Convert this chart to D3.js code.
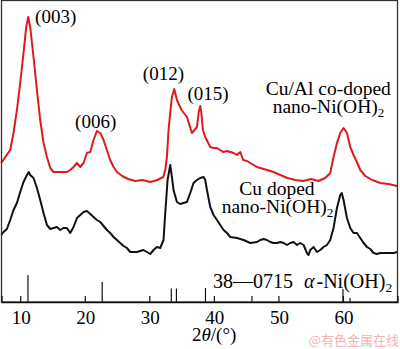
<!DOCTYPE html>
<html><head><meta charset="utf-8">
<script src="https://cdn.jsdelivr.net/npm/d3@7"></script>
<style>
body{margin:0;background:#fff}
svg{display:block}
svg text{font-family:"Liberation Serif","Times New Roman",serif;fill:#000}
</style>
</head><body>
<svg id="chart" width="400" height="349"></svg>
<script>
// ---- data (2θ in degrees, intensity in arbitrary units) ----
const twoThetaRed = [7.06,8.45,8.96,9.49,10.0,10.51,10.93,11.24,11.55,12.06,12.59,13.10,13.61,14.14,14.65,15.16,16.20,17.24,17.75,18.26,18.79,19.30,19.81,20.33,20.85,21.36,21.88,22.40,22.91,23.43,23.94,24.46,24.98,25.80,26.73,27.82,28.90,30.14,31.23,32.16,32.47,32.73,32.98,33.24,33.50,33.86,34.28,34.99,35.83,36.60,37.38,37.66,37.89,38.05,38.31,38.66,39.44,39.95,40.48,40.99,41.45,42.03,42.54,43.05,43.58,44.09,44.55,45.13,45.64,46.15,46.68,47.19,48.23,49.25,50.29,51.37,52.61,53.85,55.09,56.17,57.26,58.03,58.54,59.07,59.58,60.09,60.62,61.13,61.64,62.17,62.68,63.46,64.54,65.78,67.02,68.41];
const intensityRed = [139,152,169,192,219,249,275,285,275,245,212,182,159,145,134,130,130,130,132,135,139,135,139,149,150,162,171,169,162,152,142,135,130,126,123,121,122,120,122,125,132,145,172,189,205,213,202,192,185,169,175,190,196,190,172,165,155,154,154,152,150,151,150,149,147,150,142,141,139,137,135,134,132,130,127,124,122,121,123,121,124,129,145,159,169,174,169,155,147,140,132,126,122,119,118,116];

const twoThetaBlack = [7.06,7.41,7.94,8.45,8.96,9.49,10.0,10.51,11.04,11.32,11.55,12.06,12.59,13.10,13.61,14.14,14.65,15.16,15.69,16.20,16.71,17.24,17.75,18.26,18.79,19.30,19.81,20.33,20.85,21.36,21.88,22.40,22.91,23.43,23.94,24.46,24.98,25.49,26.01,26.53,27.04,27.56,28.08,28.59,29.10,29.63,30.14,30.65,31.18,31.69,32.20,32.47,32.83,33.24,33.50,33.75,34.28,34.79,35.30,35.83,36.34,36.85,37.38,37.89,38.40,38.66,38.93,39.44,39.95,40.48,40.99,41.50,42.03,42.54,43.58,44.60,45.64,46.68,47.19,47.71,48.23,48.74,49.25,49.78,50.29,50.81,51.33,51.84,52.35,52.88,53.38,53.90,54.42,54.67,54.94,55.45,55.98,56.48,56.99,57.52,58.03,58.54,59.07,59.58,59.81,60.09,60.62,61.13,61.64,62.17,62.68,63.20,63.72,64.23,64.74,65.27,65.78,66.82,67.85,68.41];
const intensityBlack = [67,70,73,82,92,99,110,120,127,130,127,124,114,102,89,77,73,74,75,72,74,74,69,75,84,87,90,91,88,85,82,80,76,72,69,65,62,59,56,54,50,50,50,51,52,50,48,52,55,54,62,89,122,137,125,112,100,98,99,100,109,119,122,124,125,122,112,95,87,82,77,72,69,65,64,62,59,60,62,63,62,60,59,59,60,59,57,59,60,57,59,57,49,47,52,55,50,52,55,57,62,74,94,107,109,102,84,74,69,69,64,59,55,53,49,48,49,49,49,50];

// JCPDS 38-0715 reference lines (2θ, relative intensity)
const refTwoTheta = [11.2, 22.7, 33.4, 34.2, 38.7, 45.9, 60.0, 61.1];
const refRelInt   = [100, 74, 50, 50, 52, 22, 48, 15];

const xTickValues = [10, 20, 30, 40, 50, 60];
const peakNames   = ["(003)", "(006)", "(012)", "(015)"];

// ---- drawing ----
const svg = d3.select("#chart");
const mLeft = 1.5, mRight = 397.5, mTop = 0.5, mBottom = 302;

const x = d3.scaleLinear().domain([7.1, 68.45]).range([mLeft, mRight]);
const y = d3.scaleLinear().domain([0, 301.5]).range([mBottom, mTop]);
const yRef = d3.scaleLinear().domain([0, 100]).range([mBottom, mBottom - 27]);

const line = d3.line().x(d => x(d[0])).y(d => y(d[1]));

const redData = twoThetaRed.map((t, i) => [t, intensityRed[i]]);
const blackData = twoThetaBlack.map((t, i) => [t, intensityBlack[i]]);

svg.append("path").datum(blackData).attr("d", line)
  .attr("fill", "none").attr("stroke", "#111").attr("stroke-width", 2).attr("stroke-linejoin", "round");
svg.append("path").datum(redData).attr("d", line)
  .attr("fill", "none").attr("stroke", "#e0191f").attr("stroke-width", 2).attr("stroke-linejoin", "round");

// reference pattern sticks
svg.append("g").selectAll("line").data(refTwoTheta).join("line")
  .attr("x1", d => x(d)).attr("x2", d => x(d))
  .attr("y1", mBottom).attr("y2", (d, i) => yRef(refRelInt[i]))
  .attr("stroke", "#111").attr("stroke-width", 1.2);

// frame
svg.append("rect").attr("x", mLeft).attr("y", mTop)
  .attr("width", mRight - mLeft).attr("height", mBottom - mTop)
  .attr("fill", "none").attr("stroke", "#333").attr("stroke-width", 1.3);

// x axis: ticks via d3 axis, labels as plain serif text from the same scale
const axis = d3.axisBottom(x).tickValues(xTickValues).tickSize(-6).tickFormat("");
const gx = svg.append("g").attr("transform", `translate(0,${mBottom})`).call(axis);
gx.select(".domain").attr("stroke", "#111").attr("stroke-width", 1.3);
gx.selectAll(".tick line").attr("stroke", "#111").attr("stroke-width", 1.2);
svg.append("g").selectAll("text").data(xTickValues).join("text")
  .attr("x", d => x(d) + 1).attr("y", mBottom + 21.5)
  .attr("text-anchor", "middle").style("font-size", "19px")
  .text(d => d);

// peak labels (data-space anchors)
const peakAnchors = [[12.3, 279.5], [18.5, 174.3], [29.0, 222], [35.9, 202.5]];
peakNames.forEach((n, i) => {
  svg.append("text").attr("x", x(peakAnchors[i][0])).attr("y", y(peakAnchors[i][1]))
    .style("font-size", "19px").text(n);
});

function sampleLabel(xp, yp, first, dx2) {
  const t = svg.append("text").attr("y", yp).style("font-size", "19.5px");
  t.append("tspan").attr("x", xp).text(first);
  t.append("tspan").attr("x", xp + dx2).attr("dy", 18.3).text("nano-Ni(OH)");
  t.append("tspan").style("font-size", "13px").attr("dy", 4).text("2");
}
sampleLabel(265.7, 95, "Cu/Al co-doped", 7);
sampleLabel(239.3, 195, "Cu doped", -17.6);

// JCPDS card label
const card = svg.append("text").attr("x", 213).attr("y", 288).style("font-size", "20px");
card.append("tspan").text("38\u20140715");
card.append("tspan").attr("dx", 11).style("font-style", "italic").text("\u03b1");
card.append("tspan").attr("dx", 2).text("-Ni(OH)");
card.append("tspan").style("font-size", "13.5px").attr("dy", 4).text("2");

// axis title
const at = svg.append("text").attr("x", 192).attr("y", 341).style("font-size", "19px");
at.append("tspan").text("2");
at.append("tspan").style("font-style", "italic").text("\u03b8");
at.append("tspan").text("/(\u00b0)");

// watermark
svg.append("text").attr("x", 399).attr("y", 345).attr("text-anchor", "end")
  .style("font-size", "13px").style("fill", "#f1b4b4")
  .style("font-family", '"Noto Sans CJK SC",sans-serif').text("@有色金属在线");
</script>
</body></html>
